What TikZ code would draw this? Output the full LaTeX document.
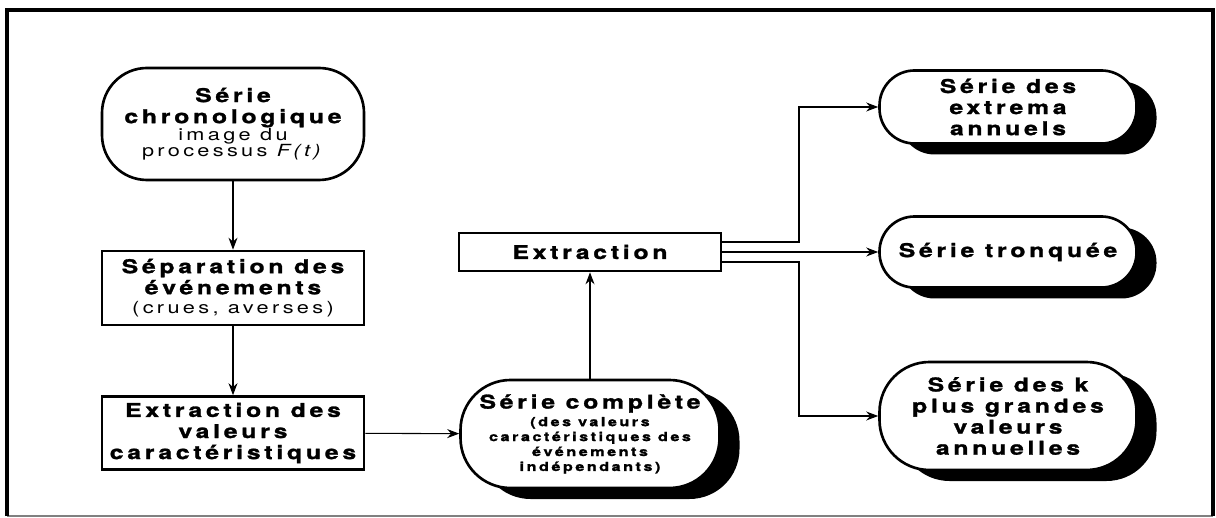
\documentclass[tikz,border=0pt]{standalone}
\usepackage{fontspec}
\setmainfont{TeX Gyre Heros}
\newfontfamily\boxfont[FakeStretch=1.3,LetterSpace=20,BoldFeatures={FakeBold=1.5}]{TeX Gyre Heros}
\newcommand\subtxt{\mdseries\fontsize{9.5}{12}\selectfont}
\newcommand\smalltxt{\fontsize{7.1}{9}\selectfont}
\usetikzlibrary{arrows.meta}

\begin{document}
\begin{tikzpicture}[x=0.2mm, y=-0.2mm,
        box/.style={draw, fill=white, line width=1.5pt, align=center, inner sep=0pt,
            minimum width=52.4mm, font=\boxfont\bfseries\fontsize{10.8}{12}\selectfont},
        oval/.style={box, rounded corners=7mm},
        shadowed/.style={preaction={draw=none, fill=black, transform canvas={shift={(4mm,-2.2mm)}}}},
        arr/.style={-{Stealth[length=2.4mm,width=1.8mm]}, line width=0.6pt}]
    \useasboundingbox (0,0) rectangle (1216,518);

    % Frame
    \draw[gray, line width=0.8pt] (7,516) -- (1213,516);
    \draw[line width=1.8pt] (7,516) -- (7,10) -- (1213,10) -- (1213,516);

    % Left column
    \node[oval, rounded corners=9mm, minimum height=22.4mm] (chrono) at (233,124)
        {Série\\chronologique\\[-2pt]\subtxt image du\\[-3pt]\subtxt processus \textit{F(t)}};
    \node[box, minimum height=14.8mm] (separ) at (233,288)
        {Séparation des\\événements\\[-1pt]\subtxt (crues, averses)};
    \node[box, minimum height=14.6mm] (valeurs) at (233,433)
        {Extraction des\\valeurs\\caractéristiques};

    % Middle column
    \node[oval, shadowed, rounded corners=10mm, minimum width=51.8mm, minimum height=21.6mm] (complete) at (590,434)
        {Série complète\\[-2pt]\smalltxt (des valeurs\\[-3.5pt]\smalltxt caractéristiques des\\[-3.5pt]
         \smalltxt événements\\[-3.5pt]\smalltxt indépendants)};
    \node[box, minimum height=7.6mm] (extraction) at (590,252) {Extraction};

    % Right column
    \node[oval, shadowed, minimum width=51.4mm, minimum height=14.6mm] (extrema) at (1008,107)
        {Série des\\extrema\\annuels};
    \node[oval, shadowed, minimum width=51.4mm, minimum height=14.2mm] (tronquee) at (1008,252)
        {Série tronquée};
    \node[oval, shadowed, rounded corners=10mm, minimum width=51.4mm, minimum height=21.6mm] (kplus) at (1008,416)
        {Série des k\\plus grandes\\valeurs\\annuelles};
    \coordinate (fork) at (799,252);

    % Connectors
    \draw[arr] (chrono) -- (separ);
    \draw[arr] (separ) -- (valeurs);
    \draw[arr] (valeurs) -- (complete);
    \draw[arr] (complete) -- (extraction);
    \draw[arr] ([yshift=2mm]extraction.east) -| (fork |- extrema) -- (extrema);
    \draw[arr] (extraction) -- (tronquee);
    \draw[arr] ([yshift=-2mm]extraction.east) -| (fork |- kplus) -- (kplus);
\end{tikzpicture}
\end{document}
